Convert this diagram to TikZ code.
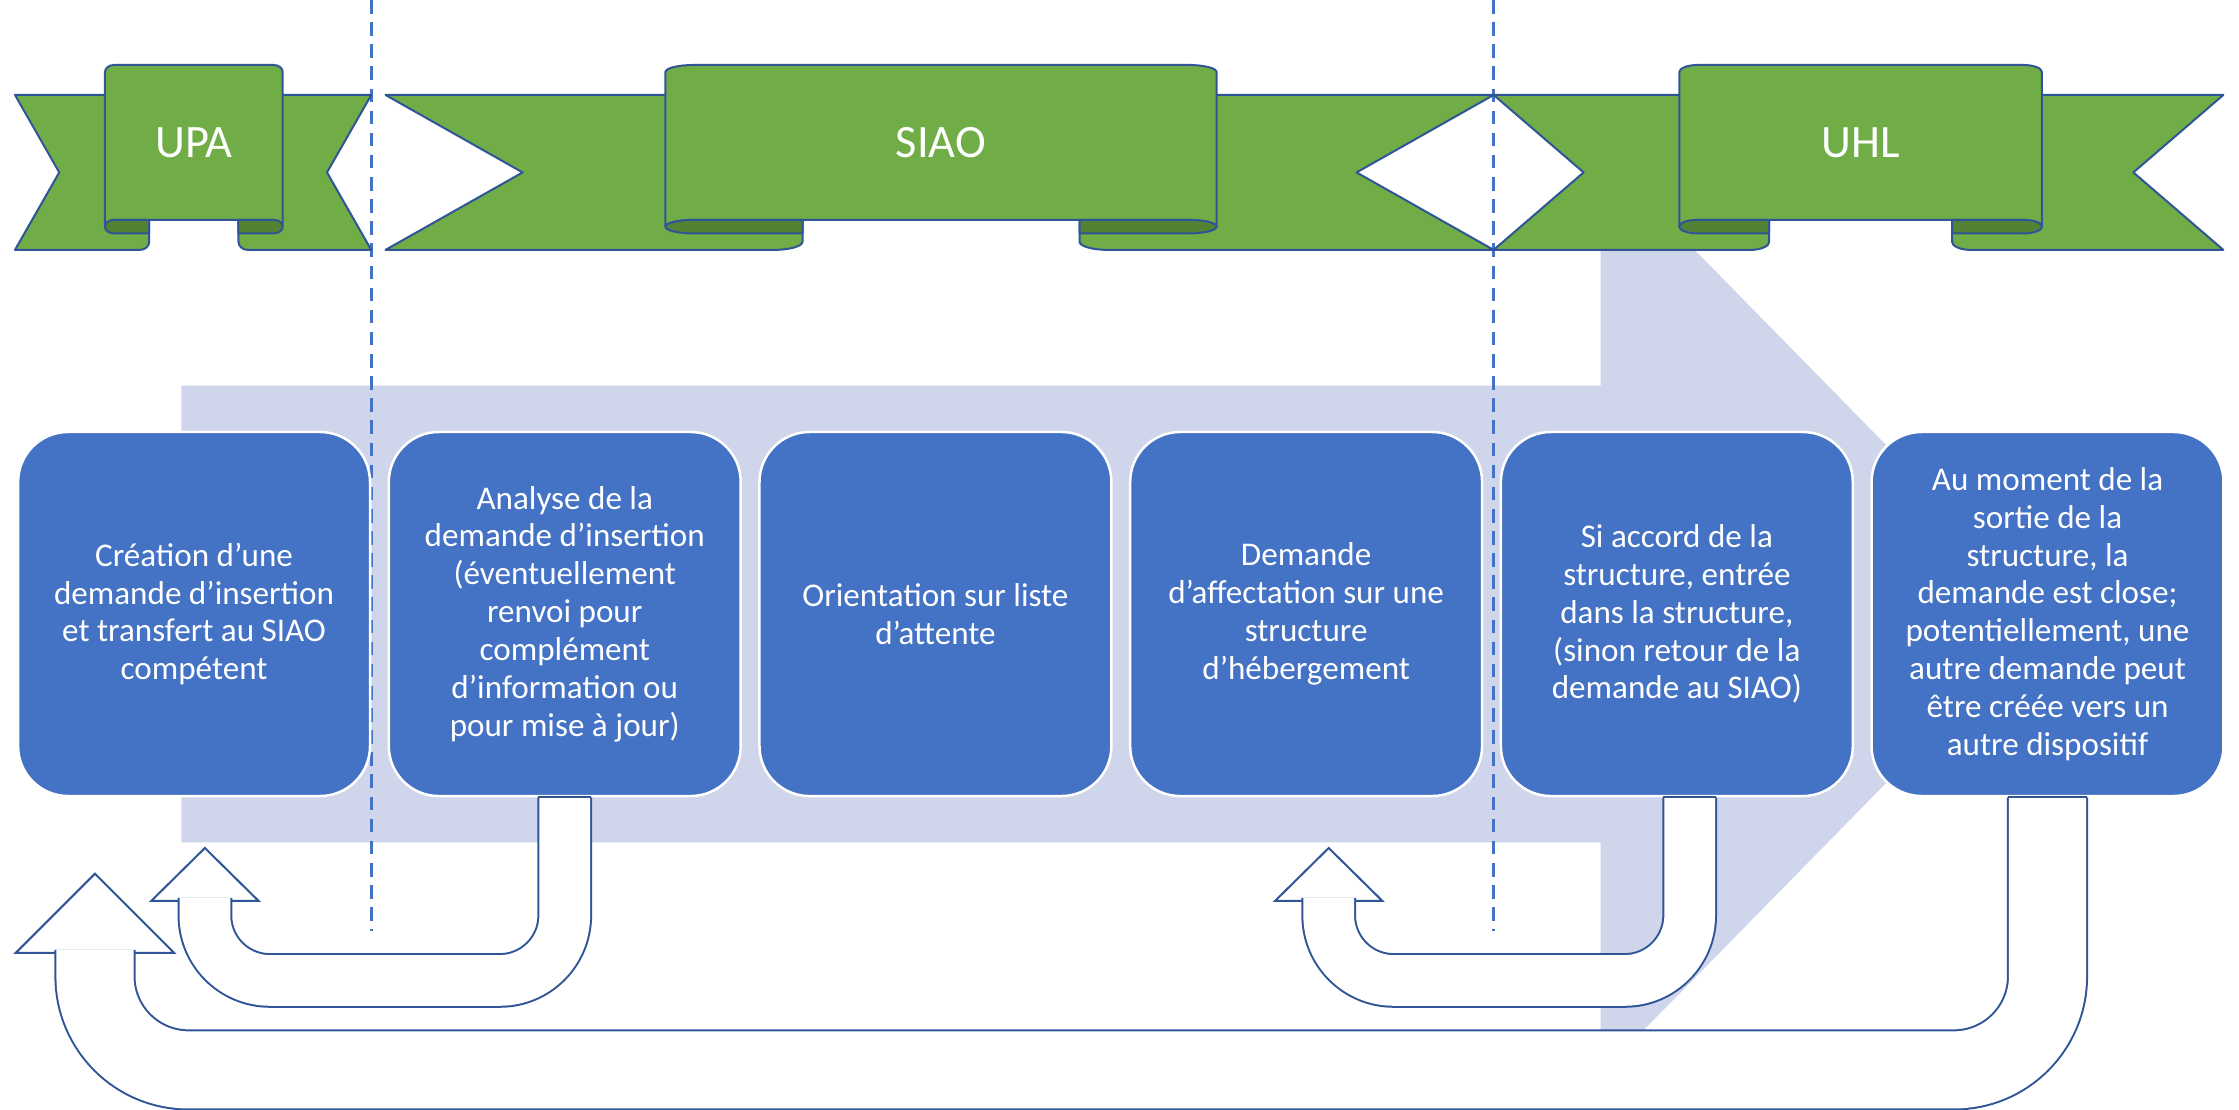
\documentclass[tikz,border=0pt]{standalone}
\usepackage{fontspec}
\setmainfont{Carlito}
\usetikzlibrary{calc}
\definecolor{boxblue}{HTML}{4472C4}
\definecolor{lav}{HTML}{CFD5EA}
\definecolor{ribgreen}{HTML}{70AD47}
\definecolor{folddark}{HTML}{548235}
\definecolor{edge}{HTML}{2F5597}
\tikzset{stage/.style={draw=white,line width=1pt,fill=boxblue,rounded corners=0.7cm,minimum width=4.93cm,minimum height=5.1cm,inner sep=0pt,align=center,text=white,font=\fontsize{13.2}{15.1}\selectfont},
 band/.style={draw=edge,fill=ribgreen,line width=0.8pt,line join=round},
 fold/.style={band,fill=folddark},
 riblabel/.style={text=white,font=\fontsize{18.5}{22}\selectfont},
 divider/.style={draw=boxblue,line width=1.2pt,dash pattern=on 0.19cm off 0.12cm},
 uturn/.style={draw=edge,line width=0.8pt,double=white,double distance=0.71cm,rounded corners=0.91cm,shorten >=-1.2pt},
 wideturn/.style={uturn,double distance=1.08cm,rounded corners=1.31cm},
 uhead/.style={draw=edge,fill=white,line width=0.8pt}}
\newcommand{\ribbon}[6]{% tail, panel left, panel right, tail, fold width, label
 \filldraw[band] (#1,66.5) -- (#2+#5,66.5) -- (#2+#5,169.25) arc[start angle=0,end angle=90,x radius=#5/4.8,y radius=5.75] -- (#1,175) -- (#1+#5,120.75) -- cycle;
 \filldraw[band] (#4,66.5) -- (#3-#5,66.5) -- (#3-#5,169.25) arc[start angle=180,end angle=90,x radius=#5/4.8,y radius=5.75] -- (#4,175) -- (#4-#5,120.75) -- cycle;
 \filldraw[band] (#2,158.75) -- (#2,50.5) arc[start angle=180,end angle=270,x radius=#5/4.8,y radius=5] -- (#3-#5/4.8,45.5) arc[start angle=270,end angle=360,x radius=#5/4.8,y radius=5] -- (#3,158.75) arc[start angle=0,end angle=-90,x radius=#5/4.8,y radius=4.75] -- (#2+#5/4.8,154) arc[start angle=270,end angle=180,x radius=#5/4.8,y radius=4.75] -- cycle;
 \filldraw[fold] (#2+#5,154) -- (#2+#5/4.8,154) arc[start angle=270,end angle=90,x radius=#5/4.8,y radius=4.75] -- (#2+#5,163.5) -- cycle;
 \filldraw[fold] (#3-#5,154) -- (#3-#5/4.8,154) arc[start angle=-90,end angle=90,x radius=#5/4.8,y radius=4.75] -- (#3-#5,163.5) -- cycle;
 \node[riblabel] (#6) at ({(#2+#3)/2},99.75) {#6};}

\begin{document}
\begin{tikzpicture}[x=0.02cm,y=-0.02cm]
\useasboundingbox (0,0) rectangle (1568,777);
\fill[lav] (127,270) -- (1121,270) -- (1121,108) -- (1437,430) -- (1121,752) -- (1121,590) -- (127,590) -- cycle;
\draw[divider] (260.5,0) -- (260.5,652) (1046,0) -- (1046,652);
\ribbon{10.5}{73.5}{198}{260}{31}{UPA}
\ribbon{270}{466}{852}{1046}{96}{SIAO}
\ribbon{1046}{1176}{1430}{1557}{63}{UHL}
\node[stage](cr) at(135.9,430){Création d’une\\demande d’insertion\\et transfert au SIAO\\compétent};
\node[stage](an) at(395.5,430){Analyse de la\\demande d’insertion\\(éventuellement\\renvoi pour\\complément\\d’information ou\\pour mise à jour)};
\node[stage](or) at(655.1,430){Orientation sur liste\\d’attente};
\node[stage](af) at(914.7,430){Demande\\d’affectation sur une\\structure\\d’hébergement};
\node[stage](en) at(1174.3,430){Si accord de la\\structure, entrée\\dans la structure,\\(sinon retour de la\\demande au SIAO)};
\node[stage](so) at(1433.9,430){Au moment de la\\sortie de la\\structure, la\\demande est close;\\potentiellement, une\\autre demande peut\\être créée vers un\\autre dispositif};
\coordinate (ta) at ($(cr.south)+(7.6,72.5)$);
\coordinate (tb) at ($(af.south)+(15.8,72.5)$);
\coordinate (tc) at ($(cr.south)+(-69.4,109)$);
\filldraw[uhead] (ta) ++(-37.5,0) -- ++(37.5,-37) -- ++(37.5,37) -- cycle;
\filldraw[uhead] (tb) ++(-37.5,0) -- ++(37.5,-37) -- ++(37.5,37) -- cycle;
\filldraw[uhead] (tc) ++(-55.5,0) -- ++(55.5,-55.5) -- ++(55.5,55.5) -- cycle;
\draw[uturn] (an.south) -- ++(0,128.25) -| (ta);
\draw[uturn] ($(en.south)+(9,0)$) -- ++(0,128.25) -| (tb);
\draw[wideturn] (so.south) -- ++(0,190.9) -| (tc);
\draw[uhead] ($(an.south)+(-18.5,0)$) -- ++(37,0) ($(en.south)+(-9.5,0)$) -- ++(37,0) ($(so.south)+(-27.75,0)$) -- ++(55.5,0);
\end{tikzpicture}
\end{document}
